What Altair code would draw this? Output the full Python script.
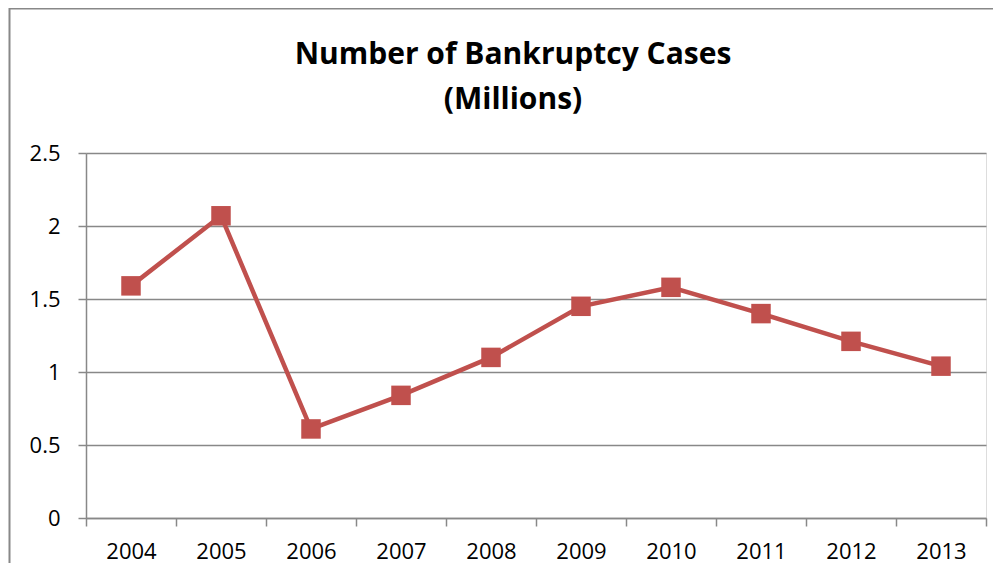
import altair as alt
import pandas as pd

years = ["2004", "2005", "2006", "2007", "2008", "2009", "2010", "2011", "2012", "2013"]
cases = [1.59, 2.07, 0.61, 0.84, 1.10, 1.45, 1.58, 1.40, 1.21, 1.04]
title_lines = ["Number of Bankruptcy Cases", "(Millions)"]

df = pd.DataFrame({"year": years, "cases": cases})

W, H = 900, 365
FONT = "Open Sans"
GRAY = "#888888"
RED = "#C0504D"

x = alt.X("year:N", sort=years, title=None,
          scale=alt.Scale(paddingInner=0, paddingOuter=0),
          axis=alt.Axis(labelAngle=0, tickBand="extent", grid=False, labelPadding=15))
y = alt.Y("cases:Q", title=None,
          scale=alt.Scale(domain=[0, 2.5], nice=False),
          axis=alt.Axis(values=[0, 0.5, 1, 1.5, 2, 2.5], grid=True, gridColor=GRAY,
                        gridWidth=1.5, labelPadding=18, format="~g"))

line = alt.Chart(df).mark_line(color=RED, strokeWidth=4.5).encode(x=x, y=y)
pts = alt.Chart(df).mark_square(color=RED, size=380, opacity=1).encode(x=x, y=y)

first = alt.datum.year == years[0]
border = alt.Chart(df).mark_rect(fill=None, stroke=GRAY, strokeWidth=2, clip=False).encode(
    x=alt.value(-76.5), x2=alt.value(925), y=alt.value(-144.5), y2=alt.value(440)
).transform_filter(first)

t1 = alt.Chart(df).mark_text(font=FONT, fontSize=30, fontWeight="bold", color="black",
                             align="center", baseline="middle", clip=False).encode(
    x=alt.value(427), y=alt.value(-98), text=alt.value(title_lines[0])
).transform_filter(first)
t2 = alt.Chart(df).mark_text(font=FONT, fontSize=30, fontWeight="bold", color="black",
                             align="center", baseline="middle", clip=False).encode(
    x=alt.value(427), y=alt.value(-53), text=alt.value(title_lines[1])
).transform_filter(first)

chart = alt.layer(border, t1, t2, line, pts).properties(
    width=W, height=H,
    padding={"left": 78, "top": 145, "right": 7, "bottom": 45},
    autosize=alt.AutoSizeParams(type="none"),
).configure_view(stroke=None).configure(background="white").configure_axis(
    tickSize=8, tickColor=GRAY, tickWidth=1.5, domainColor=GRAY, domainWidth=1.5,
    labelFont=FONT, labelFontSize=22, labelColor="black"
)

chart.save("out.html", embed_options={"renderer": "svg", "actions": False})
